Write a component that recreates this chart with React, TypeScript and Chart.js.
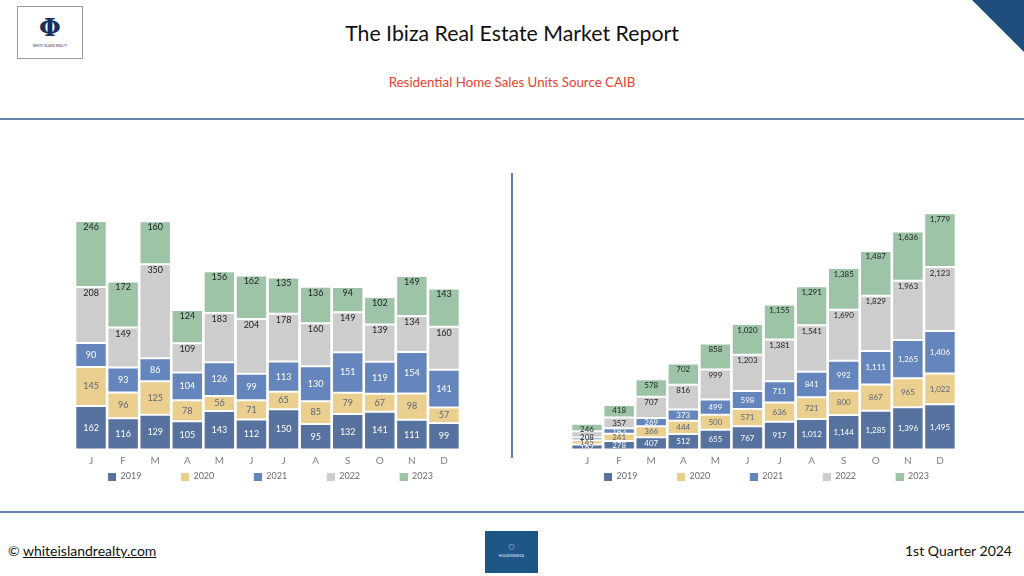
import React, { useEffect, useRef } from "react";
import { Chart, registerables } from "chart.js";

Chart.register(...registerables);

const months = ["J", "F", "M", "A", "M", "J", "J", "A", "S", "O", "N", "D"];
const years = ["2019", "2020", "2021", "2022", "2023"];

// Monthly sales units (left chart)
const monthly2019 = [162, 116, 129, 105, 143, 112, 150, 95, 132, 141, 111, 99];
const monthly2020 = [145, 96, 125, 78, 56, 71, 65, 85, 79, 67, 98, 57];
const monthly2021 = [90, 93, 86, 104, 126, 99, 113, 130, 151, 119, 154, 141];
const monthly2022 = [208, 149, 350, 109, 183, 204, 178, 160, 149, 139, 134, 160];
const monthly2023 = [246, 172, 160, 124, 156, 162, 135, 136, 94, 102, 149, 143];

// Year-to-date sales units (right chart)
const ytd2019 = [162, 278, 407, 512, 655, 767, 917, 1012, 1144, 1285, 1396, 1495];
const ytd2020 = [145, 241, 366, 444, 500, 571, 636, 721, 800, 867, 965, 1022];
const ytd2021 = [90, 183, 269, 373, 499, 598, 711, 841, 992, 1111, 1265, 1406];
const ytd2022 = [208, 357, 707, 816, 999, 1203, 1381, 1541, 1690, 1829, 1963, 2123];
const ytd2023 = [246, 418, 578, 702, 858, 1020, 1155, 1291, 1385, 1487, 1636, 1779];

const seriesColors = ["#57729e", "#ebcf8f", "#6586bd", "#cdcdcd", "#9dc4a7"];
const labelColors = ["#ffffff", "#5b6678", "#ffffff", "#1e1e1e", "#1e1e1e"];

function makeSwatch(color: string, gap: number): HTMLCanvasElement {
  const c = document.createElement("canvas");
  c.width = Math.round(gap + 8);
  c.height = 8;
  const cx = c.getContext("2d")!;
  cx.fillStyle = color;
  cx.fillRect(c.width - 8, 0, 8, 8);
  return c;
}

const segLabels = {
  id: "segLabels",
  afterDatasetsDraw(chart: any, _args: any, opts: any) {
    const ctx = chart.ctx;
    ctx.save();
    ctx.font = `${opts.size}px Lato`;
    ctx.textAlign = "center";
    ctx.textBaseline = "middle";
    chart.data.datasets.forEach((ds: any, di: number) => {
      const meta = chart.getDatasetMeta(di);
      meta.data.forEach((bar: any, i: number) => {
        const v = ds.data[i] as number;
        const p = bar.getProps(["x", "y", "base"], true);
        const ly = di >= 3 ? p.y + opts.topOffset : (p.y + p.base) / 2;
        ctx.fillStyle = labelColors[di];
        ctx.fillText(v.toLocaleString("en-US"), p.x, ly);
      });
    });
    ctx.restore();
  },
};

function StackChart(props: {
  series: number[][];
  max: number;
  padTop: number;
  labelSize: number;
  style: React.CSSProperties;
}) {
  const ref = useRef<HTMLCanvasElement>(null);
  useEffect(() => {
    const gap = 39;
    const chart = new Chart(ref.current!, {
      type: "bar",
      data: {
        labels: months,
        datasets: props.series.map((d, i) => ({
          label: years[i],
          data: d,
          backgroundColor: seriesColors[i],
          borderColor: "#ffffff",
          borderWidth: 1,
          borderSkipped: false,
          barPercentage: 0.98,
          categoryPercentage: 1,
        })),
      },
      options: {
        animation: false,
        responsive: true,
        maintainAspectRatio: false,
        events: [],
        layout: { padding: { top: props.padTop, left: 0, right: 0, bottom: 0 } },
        scales: {
          x: {
            stacked: true,
            grid: { display: false, drawTicks: false },
            border: { display: false },
            ticks: { color: "#7f7f7f", font: { family: "Lato", size: 10 }, padding: 5 },
          },
          y: {
            stacked: true,
            min: 0,
            max: props.max,
            grid: { display: false, drawTicks: false },
            border: { display: false },
            ticks: { display: false },
            afterFit: (s: any) => {
              s.width = 33;
            },
          },
        },
        plugins: {
          tooltip: { enabled: false },
          legend: {
            position: "bottom",
            labels: {
              usePointStyle: true,
              pointStyleWidth: gap + 8,
              boxHeight: 8,
              padding: 0.5,
              color: "#6b6b6b",
              font: { family: "Lato", size: 9 },
              generateLabels: () =>
                years.map((y, i) => ({
                  text: y,
                  fillStyle: seriesColors[i],
                  strokeStyle: seriesColors[i],
                  lineWidth: 0,
                  hidden: false,
                  datasetIndex: i,
                  pointStyle: makeSwatch(seriesColors[i], gap),
                  fontColor: "#6b6b6b",
                })),
            },
          },
          segLabels: { size: props.labelSize, topOffset: 6 },
        } as any,
      },
      plugins: [segLabels],
    });
    return () => chart.destroy();
  }, []);
  return (
    <div style={{ position: "absolute", ...props.style }}>
      <canvas ref={ref} />
    </div>
  );
}

export default function App() {
  const font = "Lato, 'Noto Sans', sans-serif";
  return (
    <div
      style={{
        position: "absolute",
        left: 0,
        top: 0,
        width: 1024,
        height: 576,
        background: "#ffffff",
        overflow: "hidden",
        fontFamily: font,
      }}
    >
      {/* logo */}
      <div
        style={{
          position: "absolute",
          left: 17,
          top: 6,
          width: 66,
          height: 53,
          border: "1px solid #9a9a9a",
          boxSizing: "border-box",
          textAlign: "center",
          color: "#1b2f5c",
        }}
      >
        <div style={{ fontFamily: "'DejaVu Serif', serif", fontSize: 25, fontWeight: 700, lineHeight: "28px", marginTop: 7 }}>Φ</div>
        <div style={{ fontSize: 3, lineHeight: "4px", marginTop: 2, letterSpacing: 0.1 }}>WHITE ISLAND REALTY</div>
      </div>
      {/* corner triangle */}
      <div
        style={{
          position: "absolute",
          right: 0,
          top: 0,
          width: 52,
          height: 52,
          background: "#1f4e7c",
          clipPath: "polygon(0 0, 100% 0, 100% 100%)",
        }}
      />
      <div
        style={{
          position: "absolute",
          left: 0,
          width: 1024,
          top: 19,
          textAlign: "center",
          fontSize: 21.3,
          color: "#111111",
          lineHeight: "28px",
        }}
      >
        The Ibiza Real Estate Market Report
      </div>
      <div
        style={{
          position: "absolute",
          left: 0,
          width: 1024,
          top: 73,
          textAlign: "center",
          fontSize: 13.3,
          color: "#e6432f",
          lineHeight: "18px",
        }}
      >
        Residential Home Sales Units Source CAIB
      </div>
      <div style={{ position: "absolute", left: 0, top: 118, width: 1024, height: 2, background: "#6383ad" }} />
      <div style={{ position: "absolute", left: 511, top: 173, width: 2, height: 285, background: "#5f80ad" }} />
      <div style={{ position: "absolute", left: 0, top: 511, width: 1024, height: 2, background: "#6383ad" }} />

      <StackChart
        series={[monthly2019, monthly2020, monthly2021, monthly2022, monthly2023]}
        max={1000}
        padTop={21}
        labelSize={9}
        style={{ left: 42, top: 160, width: 418, height: 331 }}
      />
      <StackChart
        series={[ytd2019, ytd2020, ytd2021, ytd2022, ytd2023]}
        max={8000}
        padTop={48}
        labelSize={8}
        style={{ left: 538, top: 160, width: 418, height: 331 }}
      />

      {/* footer */}
      <div style={{ position: "absolute", left: 8, top: 542, fontSize: 14, color: "#111", lineHeight: "18px", fontFamily: "'Liberation Sans Narrow', Lato, sans-serif" }}>
        © <span style={{ textDecoration: "underline" }}>whiteislandrealty.com</span>
      </div>
      <div
        style={{
          position: "absolute",
          left: 485,
          top: 531,
          width: 53,
          height: 42,
          background: "#1f5688",
          color: "#ffffff",
          textAlign: "center",
        }}
      >
        <div style={{ fontSize: 10, lineHeight: "12px", marginTop: 9, fontStyle: "italic" }}>◌</div>
        <div style={{ fontSize: 3, lineHeight: "4px", marginTop: 2, letterSpacing: 0.2 }}>HOUSESINIBIZA</div>
      </div>
      <div style={{ position: "absolute", right: 12, top: 542, fontSize: 14, color: "#111", lineHeight: "18px", fontFamily: "'Liberation Sans Narrow', Lato, sans-serif" }}>
        1st Quarter 2024
      </div>
    </div>
  );
}
